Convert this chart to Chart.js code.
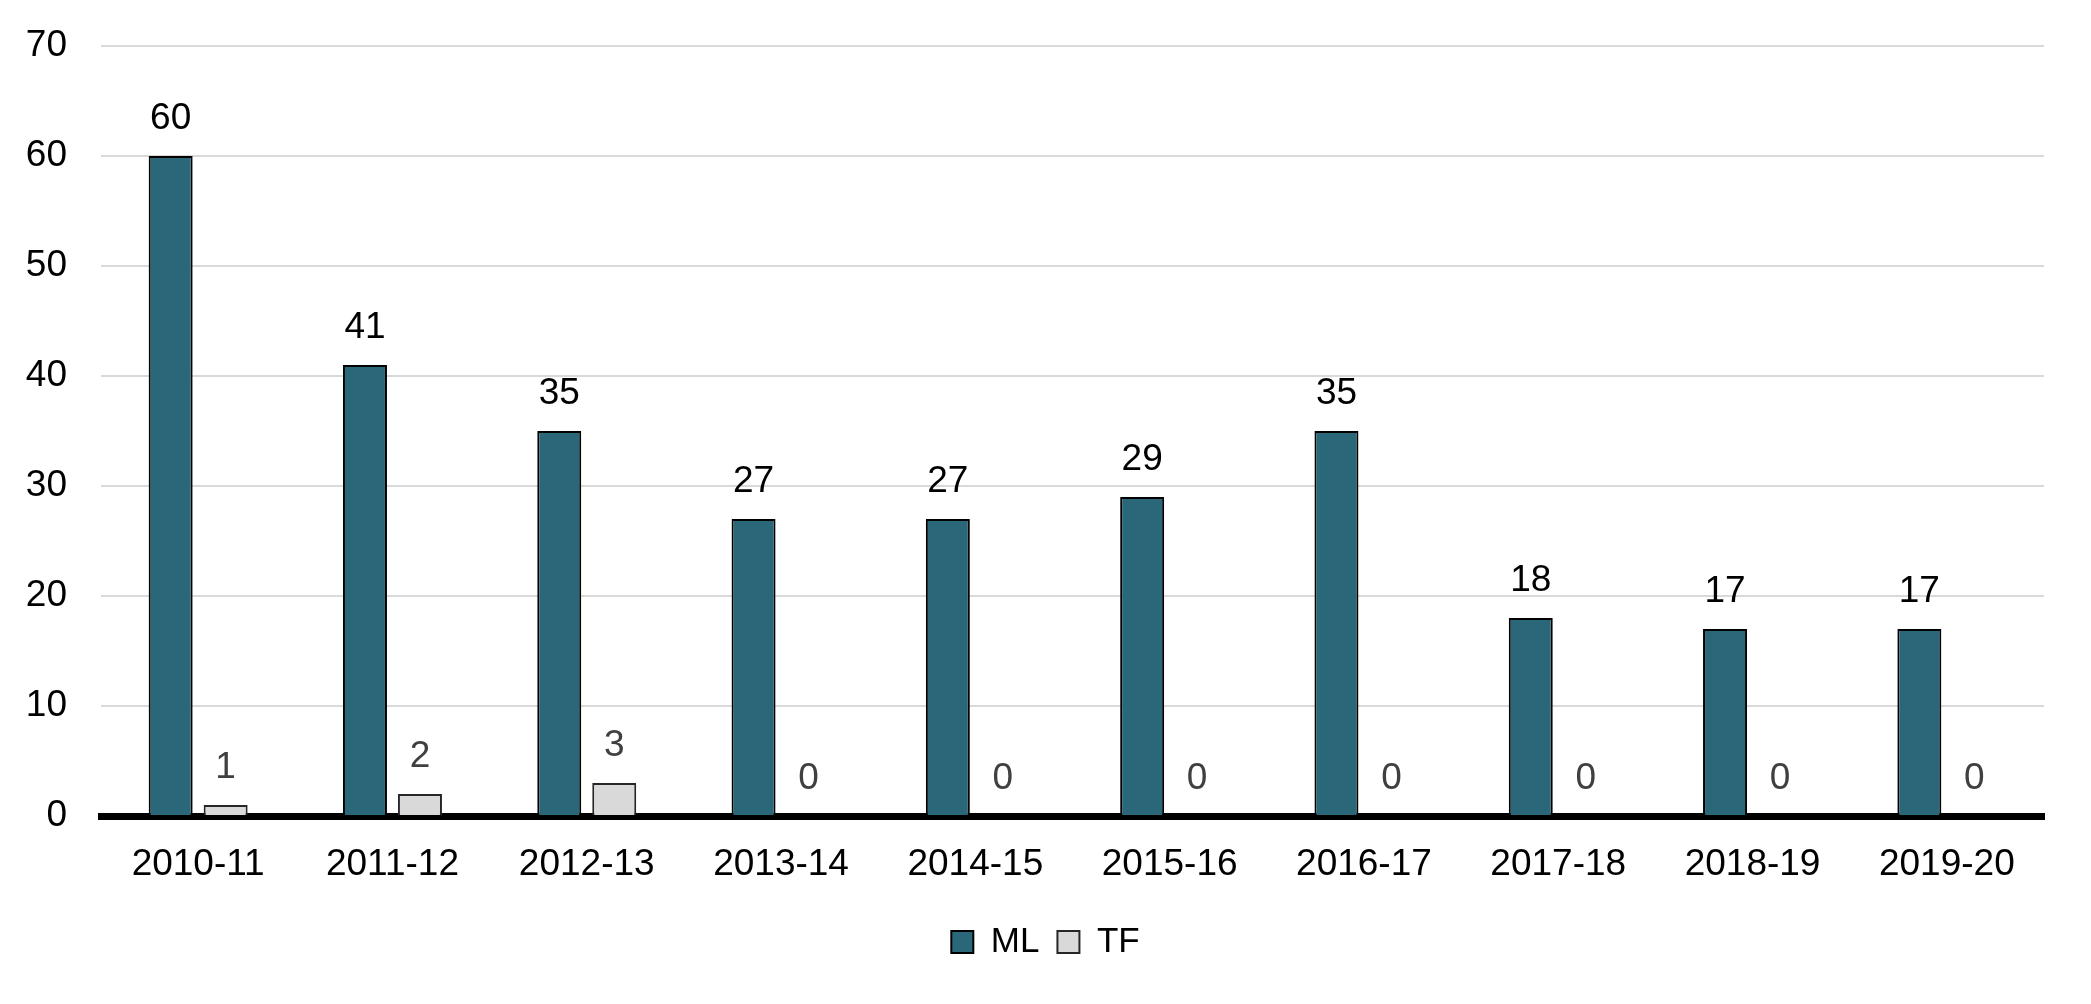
<!DOCTYPE html>
<html>
<head>
<meta charset="utf-8">
<script src="https://cdn.jsdelivr.net/npm/chart.js@4.4.1/dist/chart.umd.min.js"></script>
<style>
    html, body { margin: 0; padding: 0; background: #fff; }
    #wrap { width: 2091px; height: 1004px; position: relative; }
</style>
</head>
<body>
<div id="wrap"><canvas id="chart"></canvas></div>
<script>
// Chart data
const categories = ['2010-11', '2011-12', '2012-13', '2013-14', '2014-15', '2015-16', '2016-17', '2017-18', '2018-19', '2019-20'];
const mlValues = [60, 41, 35, 27, 27, 29, 35, 18, 17, 17];
const tfValues = [1, 2, 3, 0, 0, 0, 0, 0, 0, 0];
const yTicks = [0, 10, 20, 30, 40, 50, 60, 70];

const FONT = '"Liberation Sans", Arial, sans-serif';

/**
 * Value labels above each bar
 */
const barLabels = {
    id: 'barLabels',
    afterDatasetsDraw(chart) {
        const ctx = chart.ctx;
        ctx.save();
        ctx.font = '37px ' + FONT;
        ctx.textAlign = 'center';
        ctx.textBaseline = 'alphabetic';
        chart.data.datasets.forEach((ds, i) => {
            const meta = chart.getDatasetMeta(i);
            ctx.fillStyle = ds.labelColor;
            meta.data.forEach((bar, j) => {
                ctx.fillText(String(ds.data[j]), bar.x, bar.y - 27);
            });
        });
        ctx.restore();
    }
};

new Chart(document.getElementById('chart').getContext('2d'), {
    type: 'bar',
    data: {
        labels: categories,
        datasets: [{
            label: 'ML',
            data: mlValues,
            backgroundColor: '#2a6779',
            borderColor: '#000000',
            borderWidth: 2,
            labelColor: '#000000',
            categoryPercentage: 0.566,
            barPercentage: 0.8
        }, {
            label: 'TF',
            data: tfValues,
            backgroundColor: '#d9d9d9',
            borderColor: '#262626',
            borderWidth: 2,
            labelColor: '#404040',
            categoryPercentage: 0.566,
            barPercentage: 0.8
        }]
    },
    options: {
        responsive: true,
        maintainAspectRatio: false,
        devicePixelRatio: 1,
        animation: false,
        layout: { padding: { top: 46, left: 0, right: 0, bottom: 34.5 } },
        plugins: {
            legend: {
                position: 'bottom',
                labels: {
                    font: { family: FONT, size: 35 },
                    color: '#000',
                    boxWidth: 22,
                    boxHeight: 22,
                    padding: 18
                }
            },
            tooltip: { enabled: false }
        },
        scales: {
            x: {
                z: 1,
                grid: { display: false, drawTicks: false },
                border: { display: true, color: '#000', width: 7 },
                ticks: { font: { family: FONT, size: 37 }, color: '#000', padding: 27 },
                afterFit(scale) { scale.height = 90.5; }
            },
            y: {
                min: 0,
                max: 70,
                afterBuildTicks(scale) { scale.ticks = yTicks.map(v => ({ value: v })); },
                grid: { color: '#d9d9d9', lineWidth: 2, drawTicks: true, tickLength: 34, tickColor: 'rgba(0,0,0,0)' },
                border: { display: false },
                ticks: { font: { family: FONT, size: 37 }, color: '#000', padding: 0 },
                afterFit(scale) { scale.width = 101; }
            },
            yRight: {
                position: 'right',
                display: true,
                grid: { display: false, drawTicks: false },
                border: { display: false },
                ticks: { display: false },
                afterFit(scale) { scale.width = 47; }
            }
        }
    },
    plugins: [barLabels]
});
</script>
</body>
</html>
